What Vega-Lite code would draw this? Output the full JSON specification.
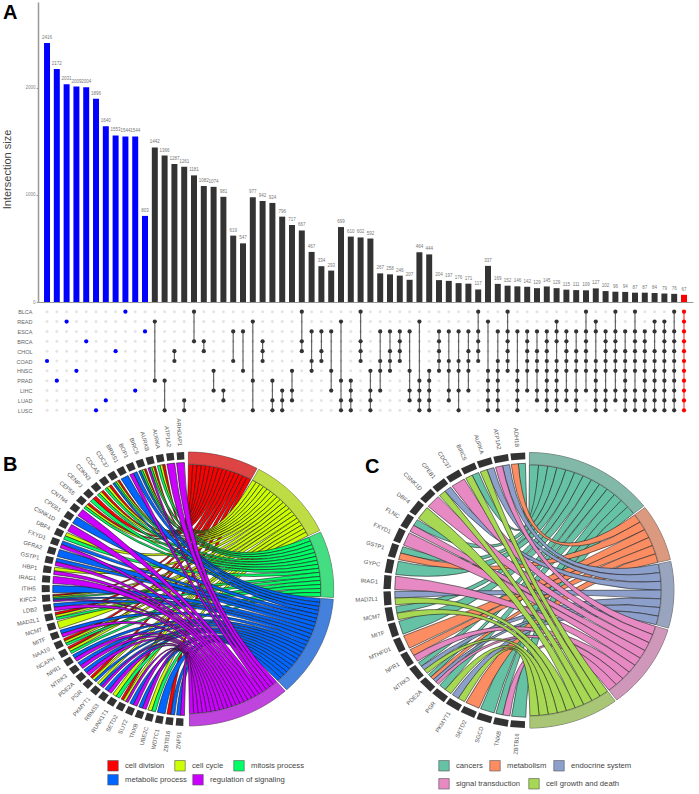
{"$schema":"https://vega.github.io/schema/vega-lite/v6.json","padding":{"left":1,"top":2,"right":0,"bottom":0},"background":"white","config":{"font":"Liberation Sans","view":{"stroke":null}},"datasets":{"bars":[
{"i":0,"v":2416,"s":"COAD"},{"i":1,"v":2172,"s":"PRAD"},{"i":2,"v":2031,"s":"READ"},{"i":3,"v":2009,"s":"HNSC"},{"i":4,"v":2004,"s":"BRCA"},{"i":5,"v":1896,"s":"LUSC"},{"i":6,"v":1640,"s":"LUAD"},{"i":7,"v":1553,"s":"CHOL"},{"i":8,"v":1544,"s":"BLCA"},{"i":9,"v":1544,"s":"LIHC"},{"i":10,"v":803,"s":"ESCA"},
{"i":11,"v":1442,"s":"READ PRAD"},{"i":12,"v":1366,"s":"PRAD LUSC"},{"i":13,"v":1287,"s":"CHOL COAD"},{"i":14,"v":1261,"s":"LUAD LUSC"},{"i":15,"v":1181,"s":"BLCA BRCA"},{"i":16,"v":1082,"s":"BRCA CHOL"},{"i":17,"v":1074,"s":"HNSC LIHC"},{"i":18,"v":981,"s":"LIHC LUAD"},{"i":19,"v":619,"s":"ESCA COAD"},{"i":20,"v":547,"s":"ESCA HNSC"},
{"i":21,"v":977,"s":"READ PRAD LUSC"},{"i":22,"v":942,"s":"BRCA CHOL COAD"},{"i":23,"v":924,"s":"PRAD LUAD LUSC"},{"i":24,"v":796,"s":"LIHC LUAD LUSC"},{"i":25,"v":717,"s":"HNSC LIHC LUAD"},{"i":26,"v":667,"s":"BLCA BRCA CHOL"},{"i":27,"v":467,"s":"ESCA COAD HNSC"},{"i":28,"v":334,"s":"ESCA CHOL COAD"},{"i":29,"v":293,"s":"ESCA HNSC LIHC"},
{"i":30,"v":699,"s":"READ PRAD LUAD LUSC"},{"i":31,"v":610,"s":"PRAD LIHC LUAD LUSC"},{"i":32,"v":602,"s":"BLCA BRCA CHOL COAD"},{"i":33,"v":592,"s":"HNSC LIHC LUAD LUSC"},{"i":34,"v":267,"s":"ESCA COAD HNSC LIHC"},{"i":35,"v":258,"s":"ESCA CHOL COAD HNSC"},{"i":36,"v":246,"s":"ESCA BRCA CHOL COAD"},{"i":37,"v":207,"s":"ESCA HNSC LIHC LUAD"},
{"i":38,"v":464,"s":"READ PRAD LIHC LUAD LUSC"},{"i":39,"v":444,"s":"HNSC PRAD LIHC LUAD LUSC"},{"i":40,"v":204,"s":"ESCA BRCA CHOL COAD HNSC"},{"i":41,"v":197,"s":"ESCA COAD HNSC LIHC LUAD"},{"i":42,"v":176,"s":"ESCA COAD HNSC LIHC LUSC"},{"i":43,"v":171,"s":"ESCA CHOL COAD HNSC LIHC"},{"i":44,"v":117,"s":"BLCA ESCA BRCA CHOL COAD"},{"i":45,"v":337,"s":"READ HNSC PRAD LIHC LUAD LUSC"},{"i":46,"v":169,"s":"ESCA COAD HNSC PRAD LIHC LUAD LUSC"},{"i":47,"v":152,"s":"BLCA ESCA BRCA CHOL COAD HNSC"},{"i":48,"v":146,"s":"ESCA HNSC PRAD LIHC LUAD LUSC"},{"i":49,"v":142,"s":"ESCA BRCA CHOL COAD HNSC LIHC"},{"i":50,"v":129,"s":"ESCA CHOL COAD HNSC LIHC LUAD"},{"i":51,"v":145,"s":"ESCA BRCA CHOL COAD HNSC PRAD LIHC LUAD LUSC"},{"i":52,"v":129,"s":"READ ESCA BRCA COAD HNSC PRAD LIHC LUAD LUSC"},{"i":53,"v":115,"s":"ESCA BRCA CHOL COAD HNSC LIHC LUAD"},{"i":54,"v":111,"s":"ESCA CHOL COAD HNSC LIHC LUAD LUSC"},{"i":55,"v":109,"s":"BLCA ESCA BRCA CHOL COAD HNSC LIHC"},{"i":56,"v":127,"s":"READ ESCA COAD HNSC PRAD LIHC LUAD LUSC"},{"i":57,"v":102,"s":"ESCA BRCA CHOL COAD HNSC LIHC LUAD LUSC"},{"i":58,"v":96,"s":"BLCA ESCA BRCA CHOL COAD HNSC LIHC LUAD"},{"i":59,"v":94,"s":"ESCA CHOL COAD HNSC PRAD LIHC LUAD LUSC"},{"i":60,"v":87,"s":"BLCA ESCA BRCA CHOL COAD HNSC LIHC LUAD LUSC"},{"i":61,"v":87,"s":"ESCA BRCA CHOL COAD HNSC PRAD LIHC LUAD LUSC"},{"i":62,"v":84,"s":"READ ESCA CHOL COAD HNSC PRAD LIHC LUAD LUSC"},{"i":63,"v":79,"s":"READ ESCA BRCA CHOL COAD HNSC PRAD LIHC LUAD LUSC"},{"i":64,"v":76,"s":"BLCA ESCA BRCA CHOL COAD HNSC PRAD LIHC LUAD LUSC"},{"i":65,"v":67,"s":"BLCA READ ESCA BRCA CHOL COAD HNSC PRAD LIHC LUAD LUSC"}],
"chordB":[{"g":"ARHGAP1","ti":[4]},{"g":"ATP1A2","ti":[4]},{"g":"AURKA","ti":[0,1,2]},{"g":"AURKB","ti":[0,1,2,4]},{"g":"BIRC5","ti":[0,1,2,3]},{"g":"BOP1","ti":[3,4]},{"g":"BRMS1","ti":[3]},{"g":"CDC37","ti":[0,1,2,3]},{"g":"CDCA5","ti":[0,1,2]},{"g":"CDKN3","ti":[0,1,2]},{"g":"CENPJ","ti":[0,2]},{"g":"CEP55","ti":[0,1,2]},{"g":"CNTN4","ti":[4]},{"g":"CPEB1","ti":[3]},{"g":"CSNK1D","ti":[4]},{"g":"DBF4","ti":[1,2]},{"g":"FXYD1","ti":[3,4]},{"g":"GFRA2","ti":[3]},{"g":"GSTP1","ti":[3,4]},{"g":"HBP1","ti":[1,4]},{"g":"IRAG1","ti":[4]},{"g":"ITIH5","ti":[3]},{"g":"KIFC2","ti":[0,1,2,3,4]},{"g":"LDB2","ti":[3,4]},{"g":"MAD2L1","ti":[0,1,2]},{"g":"MCM7","ti":[1]},{"g":"MITF","ti":[3,4]},{"g":"NAA10","ti":[0,1,2]},{"g":"NCAPH","ti":[0,1,2]},{"g":"NPR1","ti":[3,4]},{"g":"NTRK3","ti":[3,4]},{"g":"PDE2A","ti":[3,4]},{"g":"PGR","ti":[0,1,3]},{"g":"PKMYT1","ti":[1,3,4]},{"g":"RBMS3","ti":[3,4]},{"g":"RUNX1T1","ti":[1,2]},{"g":"SETD2","ti":[0,1,4]},{"g":"SLIT2","ti":[3,4]},{"g":"TNXB","ti":[3,4]},{"g":"UBE2C","ti":[1,2]},{"g":"WDTC1","ti":[3]},{"g":"ZBTB16","ti":[0,3]},{"g":"ZNF91","ti":[3,4]}],
"chordC":[{"g":"ADH1B","ti":[0,1]},{"g":"ATP1A2","ti":[2,3]},{"g":"AURKA","ti":[2,4]},{"g":"BIRC5","ti":[0,4]},{"g":"CDC37","ti":[3]},{"g":"CPEB1","ti":[2,4]},{"g":"CSNK1D","ti":[3]},{"g":"DBF4","ti":[4]},{"g":"FLNC","ti":[0,3]},{"g":"FXYD1","ti":[3]},{"g":"GSTP1","ti":[0,1]},{"g":"GYPC","ti":[0]},{"g":"IRAG1","ti":[3]},{"g":"MAD2L1","ti":[2,4]},{"g":"MCM7","ti":[0,4]},{"g":"MITF","ti":[0]},{"g":"MTHFD1","ti":[1]},{"g":"NPR1","ti":[1,3]},{"g":"NTRK3","ti":[0,2,4]},{"g":"PDE2A","ti":[0,1,2,3]},{"g":"PGR","ti":[0,4]},{"g":"PKMYT1","ti":[2,4]},{"g":"SETD2","ti":[1]},{"g":"SGCD","ti":[0]},{"g":"TNXB","ti":[0,3]},{"g":"ZBTB16","ti":[0]}]},
"resolve":{"scale":{"color":"independent","fill":"independent"}},"bounds":"flush","spacing":0,"vconcat":[
{"width":655,"height":300,"title":{"text":"A","anchor":"start","frame":"group","offset":0,"dx":-35,"dy":37,"align":"left","baseline":"alphabetic","fontSize":20,"fontWeight":"bold","color":"#000"},
"data":{"name":"bars"},"transform":[{"calculate":"length(split(datum.s,' '))==1?'one':length(split(datum.s,' '))==11?'all':'many'","as":"c"}],
"encoding":{"x":{"field":"i","type":"ordinal","sort":null,"scale":{"type":"band","paddingInner":0.39,"paddingOuter":0.615},"axis":{"labels":false,"ticks":false,"title":null,"domainColor":"#999","domainWidth":1.2}},"y":{"field":"v","type":"quantitative","scale":{"domain":[0,2798],"nice":false},"axis":{"values":[0,1000,2000],"format":"d","grid":false,"title":"Intersection size","titleFontSize":11,"titleFontWeight":"normal","titleColor":"#444","titleX":-25.5,"titleY":167,"domainColor":"#999","domainWidth":1.5,"tickColor":"#999","tickSize":2,"labelFontSize":4.5,"labelColor":"#888","labelPadding":1}}},
"layer":[{"mark":{"type":"bar"},"encoding":{"color":{"field":"c","type":"nominal","scale":{"domain":["one","many","all"],"range":["#0000ff","#333333","#ff0000"]},"legend":null}}},{"mark":{"type":"text","dy":-5,"fontSize":4.5,"color":"#777"},"encoding":{"text":{"field":"v","type":"quantitative"}}}]},
{"width":655,"height":118,"data":{"name":"bars"},"transform":[{"calculate":"length(split(datum.s,' '))==1?'one':length(split(datum.s,' '))==11?'all':'many'","as":"c"}],
"encoding":{"x":{"field":"i","type":"ordinal","sort":null,"scale":{"type":"band","paddingInner":0.39,"paddingOuter":0.615},"axis":null},"y":{"field":"r","type":"nominal","sort":null,"scale":{"type":"point","padding":0.98,"domain":["BLCA","READ","ESCA","BRCA","CHOL","COAD","HNSC","PRAD","LIHC","LUAD","LUSC"]},"axis":{"title":null,"domain":false,"ticks":false,"grid":false,"labelFontSize":5.5,"labelColor":"#666","labelPadding":6}}},
"layer":[{"transform":[{"calculate":"['BLCA','READ','ESCA','BRCA','CHOL','COAD','HNSC','PRAD','LIHC','LUAD','LUSC']","as":"r"},{"flatten":["r"]}],"mark":{"type":"point","filled":true,"size":9,"color":"#e4e4e4","opacity":1}},
{"transform":[{"calculate":"split(datum.s,' ')","as":"r"},{"flatten":["r"]}],"layer":[{"mark":{"type":"line","strokeWidth":1.2,"opacity":0.75},"encoding":{"detail":{"field":"i"},"color":{"field":"c","type":"nominal","scale":{"domain":["one","many","all"],"range":["#0000ff","#333333","#ff0000"]},"legend":null}}},{"mark":{"type":"point","filled":true,"size":18,"opacity":1},"encoding":{"color":{"field":"c","type":"nominal","legend":null}}}]}]},
{"resolve":{"scale":{"color":"independent","fill":"independent"}},"bounds":"flush","spacing":0,"hconcat":[
{"width":312,"height":374,"title":{"text":"B","anchor":"start","frame":"group","offset":0,"dx":-35,"dy":72.5,"align":"left","baseline":"alphabetic","fontSize":20,"fontWeight":"bold","color":"#000"},
"data":{"name":"chordB"},"transform":[{"window":[{"op":"row_number","as":"gi"}]},{"flatten":["ti"],"as":["k"]},{"window":[{"op":"row_number","as":"kk"}],"groupby":["g"],"sort":[{"field":"k"}]},{"joinaggregate":[{"op":"count","as":"ng"}],"groupby":["g"]},{"window":[{"op":"row_number","as":"n"}],"sort":[{"field":"k"},{"field":"gi"}]},{"calculate":"['cell division','cell cycle','mitosis process','metabolic process','regulation of signaling'][datum.k]","as":"t"},{"calculate":"((datum.n-1)*1.87+datum.k*0.8+0.3)*PI/180","as":"b0"},{"calculate":"datum.b0+1.87*PI/180","as":"b1"},{"calculate":"(358.6-(datum.gi-1)*4.14)*PI/180","as":"gt"},{"calculate":"datum.gt-(datum.kk-1)*3.34/datum.ng*PI/180","as":"a1"},{"calculate":"datum.a1-3.34/datum.ng*PI/180","as":"a0"}],
"layer":[
{"encoding":{"x":{"datum":0,"type":"quantitative","scale":{"domain":[-149.7,162.3],"nice":false,"zero":false},"axis":null},"y":{"datum":0,"type":"quantitative","scale":{"domain":[-205,169],"nice":false,"zero":false},"axis":null}},"layer":[
{"transform":[{"calculate":"'M'+(133*sin(datum.b0))+' '+(-124.6*cos(datum.b0))+'Q0 0 '+(135*sin(datum.a1))+' '+(-126.5*cos(datum.a1))+'L'+(135*sin(datum.a0))+' '+(-126.5*cos(datum.a0))+'Q0 0 '+(133*sin(datum.b1))+' '+(-124.6*cos(datum.b1))+'Z'","as":"p"}],"mark":{"type":"point","filled":true,"size":4,"opacity":1,"stroke":"#1a1a1a","strokeWidth":0.6},"encoding":{"shape":{"field":"p","type":"nominal","scale":null},"order":{"field":"k"},"color":{"field":"t","type":"nominal","scale":{"domain":["cell division","cell cycle","mitosis process","metabolic process","regulation of signaling"],"range":["#ff0000","#ccff00","#00ff66","#0066ff","#cc00ff"]},"legend":{"orient":"none","legendX":69,"legendY":339.5,"columns":3,"values":["cell division","cell cycle","mitosis process"],"title":null,"symbolType":"square","symbolSize":110,"symbolStrokeColor":"#555","symbolStrokeWidth":0.6,"labelFontSize":7.7,"labelColor":"#444","columnPadding":8,"labelOffset":6}}}},
{"transform":[{"aggregate":[{"op":"min","field":"b0","as":"b0"},{"op":"max","field":"b1","as":"b1"}],"groupby":["t"]},{"calculate":"'M'+(146*sin(datum.b0))+' '+(-137*cos(datum.b0))+'A146 137 0 0 1 '+(146*sin(datum.b1))+' '+(-137*cos(datum.b1))+'L'+(133.5*sin(datum.b1))+' '+(-125*cos(datum.b1))+'A133.5 125 0 0 0 '+(133.5*sin(datum.b0))+' '+(-125*cos(datum.b0))+'Z'","as":"p"}],"layer":[{"mark":{"type":"point","filled":true,"size":4,"opacity":1,"color":"#aaaaaa","stroke":"#555","strokeWidth":0.7},"encoding":{"shape":{"field":"p","type":"nominal","scale":null}}},{"mark":{"type":"point","filled":true,"size":4,"opacity":0.6,"strokeWidth":0},"encoding":{"shape":{"field":"p","type":"nominal","scale":null},"fill":{"field":"t","type":"nominal","scale":{"domain":["metabolic process","regulation of signaling","cell division","cell cycle","mitosis process"],"range":["#0066ff","#cc00ff","#ff0000","#ccff00","#00ff66"]},"legend":{"orient":"none","legendX":69,"legendY":353.5,"columns":2,"values":["metabolic process","regulation of signaling"],"title":null,"symbolType":"square","symbolSize":110,"symbolOpacity":1,"symbolStrokeColor":"#555","symbolStrokeWidth":0.6,"labelFontSize":7.7,"labelColor":"#444","columnPadding":4,"labelOffset":6}}}}]},
{"transform":[{"aggregate":[{"op":"min","field":"gt","as":"gt"}],"groupby":["g"]},{"calculate":"datum.gt-0.052","as":"v"},{"calculate":"'M'+(146*sin(datum.gt))+' '+(-137*cos(datum.gt))+'L'+(146*sin(datum.v))+' '+(-137*cos(datum.v))+'L'+(138*sin(datum.v))+' '+(-129.5*cos(datum.v))+'L'+(138*sin(datum.gt))+' '+(-129.5*cos(datum.gt))+'Z'","as":"p"}],"mark":{"type":"point","filled":true,"size":4,"opacity":1,"color":"#333333","strokeWidth":0},"encoding":{"shape":{"field":"p","type":"nominal","scale":null}}}]},
{"transform":[{"aggregate":[{"op":"min","field":"gt","as":"gt"}],"groupby":["g"]},{"calculate":"datum.gt-0.026","as":"m"},{"calculate":"152*sin(datum.m)","as":"lx"},{"calculate":"143*cos(datum.m)","as":"ly"},{"calculate":"datum.m*180/PI-270","as":"ang"}],"mark":{"type":"text","align":"right","baseline":"middle","fontSize":5.8,"color":"#555"},"encoding":{"x":{"field":"lx","type":"quantitative","scale":{"domain":[-149.7,162.3],"nice":false,"zero":false},"axis":null},"y":{"field":"ly","type":"quantitative","scale":{"domain":[-205,169],"nice":false,"zero":false},"axis":null},"text":{"field":"g"},"angle":{"field":"ang","type":"quantitative","scale":null}}}]},
{"width":349,"height":374,"title":{"text":"C","anchor":"start","frame":"group","offset":0,"dx":15,"dy":72.5,"align":"left","baseline":"alphabetic","fontSize":20,"fontWeight":"bold","color":"#000"},
"data":{"name":"chordC"},"transform":[{"window":[{"op":"row_number","as":"gi"}]},{"flatten":["ti"],"as":["k"]},{"window":[{"op":"row_number","as":"kk"}],"groupby":["g"],"sort":[{"field":"k"}]},{"joinaggregate":[{"op":"count","as":"ng"}],"groupby":["g"]},{"window":[{"op":"row_number","as":"n"}],"sort":[{"field":"k"},{"field":"gi"}]},{"calculate":"['cancers','metabolism','endocrine system','signal transduction','cell growth and death'][datum.k]","as":"t"},{"calculate":"((datum.n-1)*4.0+datum.k*0.8+0.3)*PI/180","as":"b0"},{"calculate":"datum.b0+4.0*PI/180","as":"b1"},{"calculate":"(358.6-(datum.gi-1)*6.85)*PI/180","as":"gt"},{"calculate":"datum.gt-(datum.kk-1)*6.1/datum.ng*PI/180","as":"a1"},{"calculate":"datum.a1-6.1/datum.ng*PI/180","as":"a0"}],
"layer":[
{"encoding":{"x":{"datum":0,"type":"quantitative","scale":{"domain":[-178.7,170.3],"nice":false,"zero":false},"axis":null},"y":{"datum":0,"type":"quantitative","scale":{"domain":[-203.7,170.3],"nice":false,"zero":false},"axis":null}},"layer":[
{"transform":[{"calculate":"'M'+(132.5*sin(datum.b0))+' '+(-125.5*cos(datum.b0))+'Q0 0 '+(134*sin(datum.a1))+' '+(-127*cos(datum.a1))+'L'+(134*sin(datum.a0))+' '+(-127*cos(datum.a0))+'Q0 0 '+(132.5*sin(datum.b1))+' '+(-125.5*cos(datum.b1))+'Z'","as":"p"}],"mark":{"type":"point","filled":true,"size":4,"opacity":1,"stroke":"#222","strokeWidth":0.6},"encoding":{"shape":{"field":"p","type":"nominal","scale":null},"order":{"field":"k"},"color":{"field":"t","type":"nominal","scale":{"domain":["cancers","metabolism","endocrine system","signal transduction","cell growth and death"],"range":["#66c2a5","#fc8d62","#8da0cb","#e78ac3","#a6d854"]},"legend":{"orient":"none","legendX":88,"legendY":339.5,"columns":3,"values":["cancers","metabolism","endocrine system"],"title":null,"symbolType":"square","symbolSize":110,"symbolStrokeColor":"#555","symbolStrokeWidth":0.6,"labelFontSize":7.7,"labelColor":"#444","columnPadding":5,"labelOffset":6}}}},
{"transform":[{"aggregate":[{"op":"min","field":"b0","as":"b0"},{"op":"max","field":"b1","as":"b1"}],"groupby":["t"]},{"calculate":"'M'+(145.3*sin(datum.b0))+' '+(-137.8*cos(datum.b0))+'A145.3 137.8 0 0 1 '+(145.3*sin(datum.b1))+' '+(-137.8*cos(datum.b1))+'L'+(133*sin(datum.b1))+' '+(-126*cos(datum.b1))+'A133 126 0 0 0 '+(133*sin(datum.b0))+' '+(-126*cos(datum.b0))+'Z'","as":"p"}],"layer":[{"mark":{"type":"point","filled":true,"size":4,"opacity":1,"color":"#aaaaaa","stroke":"#555","strokeWidth":0.7},"encoding":{"shape":{"field":"p","type":"nominal","scale":null}}},{"mark":{"type":"point","filled":true,"size":4,"opacity":0.6,"strokeWidth":0},"encoding":{"shape":{"field":"p","type":"nominal","scale":null},"fill":{"field":"t","type":"nominal","scale":{"domain":["signal transduction","cell growth and death","cancers","metabolism","endocrine system"],"range":["#e78ac3","#a6d854","#66c2a5","#fc8d62","#8da0cb"]},"legend":{"orient":"none","legendX":88,"legendY":357.5,"columns":2,"values":["signal transduction","cell growth and death"],"title":null,"symbolType":"square","symbolSize":110,"symbolOpacity":1,"symbolStrokeColor":"#555","symbolStrokeWidth":0.6,"labelFontSize":7.7,"labelColor":"#444","columnPadding":6,"labelOffset":6}}}}]},
{"transform":[{"aggregate":[{"op":"min","field":"gt","as":"gt"}],"groupby":["g"]},{"calculate":"datum.gt-0.102","as":"v"},{"calculate":"'M'+(145.3*sin(datum.gt))+' '+(-137.8*cos(datum.gt))+'L'+(145.3*sin(datum.v))+' '+(-137.8*cos(datum.v))+'L'+(138*sin(datum.v))+' '+(-131*cos(datum.v))+'L'+(138*sin(datum.gt))+' '+(-131*cos(datum.gt))+'Z'","as":"p"}],"mark":{"type":"point","filled":true,"size":4,"opacity":1,"color":"#333333","strokeWidth":0},"encoding":{"shape":{"field":"p","type":"nominal","scale":null}}}]},
{"transform":[{"aggregate":[{"op":"min","field":"gt","as":"gt"}],"groupby":["g"]},{"calculate":"datum.gt-0.051","as":"m"},{"calculate":"151*sin(datum.m)","as":"lx"},{"calculate":"143.5*cos(datum.m)","as":"ly"},{"calculate":"datum.m*180/PI-270","as":"ang"}],"mark":{"type":"text","align":"right","baseline":"middle","fontSize":5.8,"color":"#555"},"encoding":{"x":{"field":"lx","type":"quantitative","scale":{"domain":[-178.7,170.3],"nice":false,"zero":false},"axis":null},"y":{"field":"ly","type":"quantitative","scale":{"domain":[-203.7,170.3],"nice":false,"zero":false},"axis":null},"text":{"field":"g"},"angle":{"field":"ang","type":"quantitative","scale":null}}}]}
]}]}
